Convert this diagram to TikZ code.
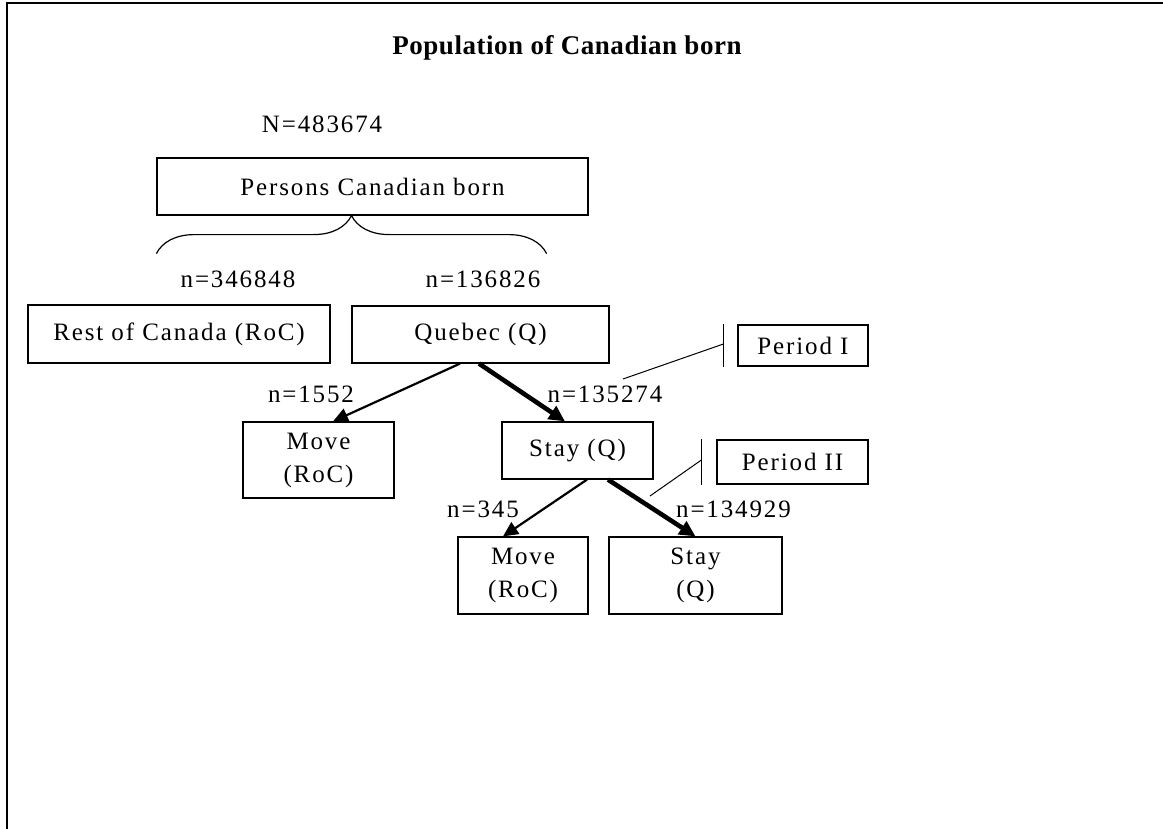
\documentclass[tikz,border=0pt]{standalone}
\usepackage{fontspec}
\setmainfont{Liberation Serif}[LetterSpace=7.5]
\newfontfamily\titlefont{Liberation Serif}[LetterSpace=2]
\usetikzlibrary{arrows.meta,decorations.pathreplacing}

\begin{document}
\begin{tikzpicture}[x=0.5pt,y=-0.5pt,
    box/.style={draw,line width=0.6pt,inner sep=0pt,align=center,font=\fontsize{12.5}{16.5}\selectfont},
    lbl/.style={inner sep=0pt,anchor=base,font=\fontsize{12.5}{15}\selectfont},
    thinarrow/.style={line width=1.1pt,-{Triangle[length=7.5pt,width=7pt]}},
    thickarrow/.style={line width=2.3pt,-{Triangle[length=8pt,width=7.5pt]}},
    periodline/.style={line width=0.5pt},
    periodbar/.style={line width=0.8pt}]
        \useasboundingbox (0,0) rectangle (1163,829);
        \draw[line width=1pt] (1163,3) -- (6.5,3) -- (6.5,829);

        \node[inner sep=0pt,anchor=base,font=\titlefont\bfseries\fontsize{13.5}{16}\selectfont] (title) at (567,55) {Population of Canadian born};

        \node[lbl] (ntot) at (322,133) {N=483674};
        \node[box,minimum width=215.5pt,minimum height=28.5pt] (pers) at (372.5,186.5) {Persons Canadian born};

        \node[lbl] (nroc) at (238,287) {n=346848};
        \node[lbl] (nq) at (483,287) {n=136826};
        \node[box,minimum width=151pt,minimum height=29pt] (roc) at (179,334) {Rest of Canada (RoC)};
        \node[box,minimum width=128.5pt,minimum height=28.5pt] (queb) at (480.5,334.5) {Quebec (Q)};

        \node[lbl] (nmove1) at (311,402) {n=1552};
        \node[lbl] (nstay1) at (605,402) {n=135274};
        \node[box,minimum width=75.5pt,minimum height=38pt] (move1) at (318.5,460) {Move\\(RoC)};
        \node[box,minimum width=75.5pt,minimum height=28.5pt] (stay1) at (577.5,450.5) {Stay (Q)};

        \node[lbl] (nmove2) at (483,517) {n=345};
        \node[lbl] (nstay2) at (733.5,517) {n=134929};
        \node[box,minimum width=65pt,minimum height=38.5pt] (move2) at (523,575.5) {Move\\(RoC)};
        \node[box,minimum width=86.5pt,minimum height=38.5pt] (stay2) at (695.5,575.5) {Stay\\(Q)};

        \node[box,minimum width=65pt,minimum height=20.5pt] (per1) at (803,345.5) {Period I};
        \node[box,minimum width=75.5pt,minimum height=22pt] (per2) at (792.5,462) {Period II};

        \draw[line width=0.6pt,decorate,decoration={brace,amplitude=19pt}]
            ([yshift=-19pt]pers.south west) -- ([xshift=-21pt,yshift=-19pt]pers.south east);

        \draw[thinarrow] ([xshift=-10.25pt]queb.south) -- ([xshift=7.25pt]move1.north);
        \draw[thickarrow] ([xshift=-0.75pt]queb.south) -- ([xshift=-6.25pt]stay1.north);
        \draw[thinarrow] ([xshift=4.75pt]stay1.south) -- ([xshift=-10pt]move2.north);
        \draw[thickarrow] ([xshift=15.25pt]stay1.south) -- (stay2.north);

        % period markers
        \coordinate (p1end) at (623,379);
        \coordinate (p2end) at (650,496);
        \draw[periodline] (p1end) -- ([xshift=-7pt,yshift=0.75pt]per1.west);
        \draw[periodbar] ([xshift=-7pt]per1.north west) -- ([xshift=-7pt]per1.south west);
        \draw[periodline] (p2end) -- ([xshift=-7.5pt,yshift=1pt]per2.west);
        \draw[periodbar] ([xshift=-7.5pt]per2.north west) -- ([xshift=-7.5pt]per2.south west);
    \end{tikzpicture}
\end{document}
